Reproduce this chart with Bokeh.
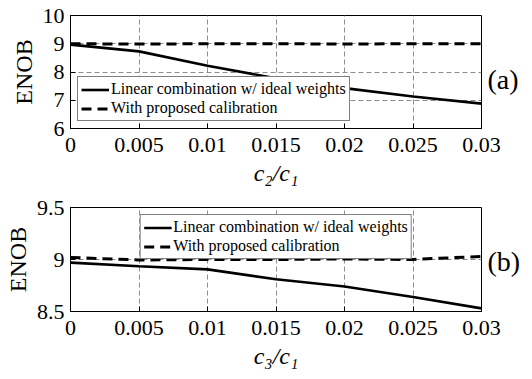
from bokeh.plotting import figure
from bokeh.layouts import column
from bokeh.models import Range1d, FixedTicker, CustomJSTickFormatter, Legend, LegendItem, LinearAxis
from bokeh.embed import file_html
from bokeh.resources import INLINE

# ---- data ----
x_vals = [0, 0.005, 0.01, 0.015, 0.02, 0.025, 0.03]
a_linear = [8.97, 8.73, 8.22, 7.78, 7.43, 7.13, 6.88]
a_calib = [9.0, 8.99, 9.0, 9.0, 8.99, 9.0, 9.0]
b_linear = [8.97, 8.935, 8.905, 8.81, 8.74, 8.64, 8.53]
b_calib = [9.02, 8.995, 9.0, 9.0, 9.005, 9.0, 9.03]
x_ticks = [0, 0.005, 0.01, 0.015, 0.02, 0.025, 0.03]
a_yticks = [6, 7, 8, 9, 10]
b_yticks = [8.5, 9, 9.5]
legend_labels = ["Linear combination w/ ideal weights", "With proposed calibration"]
panel_names = ["(a)", "(b)"]
panel_pos = [7.75, 8.98]

FONT = "Liberation Serif"


def make_fig(yr, yticks, xlabel, ylin, ycal, height, top, bottom, legend_loc, panel, panel_y):
    p = figure(width=532, height=height, output_backend="svg", toolbar_location=None,
               x_range=Range1d(0, 0.03), y_range=Range1d(*yr),
               min_border_left=70, min_border_right=51, min_border_top=top, min_border_bottom=bottom)
    p.outline_line_color = "black"
    p.outline_line_width = 1
    for ax in (p.xaxis[0], p.yaxis[0]):
        ax.axis_line_color = "black"
        ax.major_tick_in = 5
        ax.major_tick_out = 0
        ax.minor_tick_line_color = None
        ax.major_label_text_font = FONT
        ax.major_label_text_font_size = "22px"
        ax.major_label_text_color = "black"
        ax.axis_label_text_font = FONT
        ax.axis_label_text_font_size = "24px"
        ax.axis_label_text_color = "black"
        ax.formatter = CustomJSTickFormatter(code="return tick.toString();")
    p.xaxis[0].ticker = FixedTicker(ticks=x_ticks)
    p.yaxis[0].ticker = FixedTicker(ticks=yticks)
    p.xaxis[0].axis_label = xlabel
    p.xaxis[0].axis_label_text_font_style = "italic"
    p.yaxis[0].axis_label = "ENOB"
    p.yaxis[0].axis_label_text_font_style = "normal"
    p.xaxis[0].major_label_standoff = 9
    p.xaxis[0].axis_label_standoff = 5
    p.yaxis[0].major_label_standoff = 6
    p.yaxis[0].axis_label_standoff = 3
    for g in (p.xgrid[0], p.ygrid[0]):
        g.grid_line_color = "#8c8c8c"
        g.grid_line_dash = "5 3"
        g.grid_line_width = 1
    r1 = p.line(x_vals, ylin, line_color="black", line_width=2.6)
    r2 = p.line(x_vals, ycal, line_color="black", line_width=3, line_dash="10 6")
    leg = Legend(items=[LegendItem(label=legend_labels[0], renderers=[r1]),
                        LegendItem(label=legend_labels[1], renderers=[r2])],
                 location=legend_loc)
    leg.label_text_font = FONT
    leg.label_text_font_size = "16px"
    leg.label_text_color = "black"
    leg.border_line_color = "black"
    leg.border_line_width = 1
    leg.background_fill_alpha = 1
    leg.padding = 3
    leg.spacing = 1
    leg.margin = 7
    leg.label_height = 17
    leg.glyph_height = 17
    leg.glyph_width = 28
    leg.label_standoff = 2
    p.add_layout(leg, "center")
    # panel tag on the right, as a single-tick axis label
    rax = LinearAxis(ticker=FixedTicker(ticks=[panel_y]),
                     formatter=CustomJSTickFormatter(code="return %r;" % panel))
    rax.axis_line_color = None
    rax.major_tick_line_color = None
    rax.minor_tick_line_color = None
    rax.major_label_standoff = 0
    rax.major_label_text_font = FONT
    rax.major_label_text_font_size = "28px"
    rax.major_label_text_color = "black"
    p.add_layout(rax, "right")
    return p


p1 = make_fig((6, 10), a_yticks, "c₂/c₁", a_linear, a_calib, 190, 15, 62, "bottom_left",
              panel_names[0], panel_pos[0])
p2 = make_fig((8.5, 9.5), b_yticks, "c₃/c₁", b_linear, b_calib, 181, 17, 52, "top_center",
              panel_names[1], panel_pos[1])

layout = column(p1, p2, spacing=0)
open("out.html", "w").write(file_html(layout, INLINE))
